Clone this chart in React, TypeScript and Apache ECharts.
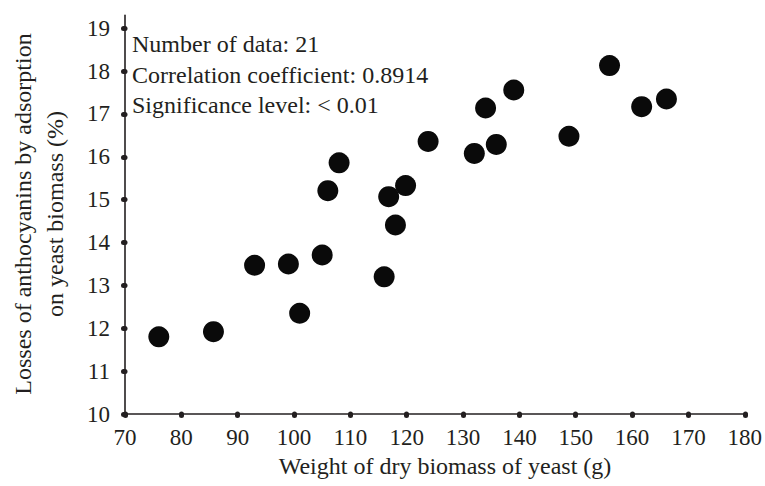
import React, { useEffect, useRef } from "react";
import * as echarts from "echarts";

const weights = [76, 85.7, 93, 99, 101, 105, 106, 108, 116, 116.8, 118, 119.8, 123.8, 132, 134, 135.9, 139, 148.8, 156, 161.7, 166.1];
const losses = [11.8, 11.92, 13.47, 13.5, 12.35, 13.71, 15.21, 15.86, 13.2, 15.07, 14.41, 15.33, 16.36, 16.08, 17.14, 16.29, 17.56, 16.48, 18.13, 17.17, 17.35];
const yTicks = [10, 11, 12, 13, 14, 15, 16, 17, 18, 19];
const xTitle = "Weight of dry biomass of yeast (g)";
const yTitleLines = ["Losses of anthocyanins by adsorption", "on yeast biomass (%)"];
const notes = ["Number of data: 21", "Correlation coefficient: 0.8914", "Significance level: < 0.01"];

const FONT = "'Liberation Serif', 'DejaVu Serif', serif";
const INK = "#231f20";

export default function App() {
  const ref = useRef<HTMLDivElement>(null);
  useEffect(() => {
    if (!ref.current) return;
    const chart = echarts.init(ref.current, undefined, { renderer: "svg" });
    const tickStyle = { show: true, length: 1.5, lineStyle: { color: INK, width: 5, cap: "round" as const } };
    chart.setOption({
      animation: false,
      backgroundColor: "#ffffff",
      grid: { left: 125, right: 18, top: 15.4, bottom: 72 },
      xAxis: {
        type: "value",
        min: 70,
        max: 180,
        interval: 10,
        splitLine: { show: false },
        axisLine: { lineStyle: { color: INK, width: 1.6 } },
        axisTick: tickStyle,
        axisLabel: { color: INK, fontFamily: FONT, fontSize: 23, margin: 12 },
      },
      yAxis: {
        type: "value",
        min: 10,
        max: 19.3,
        splitLine: { show: false },
        axisLine: { show: true, lineStyle: { color: INK, width: 1.6 } },
        axisTick: { ...tickStyle, customValues: yTicks },
        axisLabel: { color: INK, fontFamily: FONT, fontSize: 23, margin: 15, customValues: yTicks },
      },
      series: [
        {
          type: "scatter",
          symbol: "circle",
          symbolSize: 21,
          itemStyle: { color: "#0a0a0a", opacity: 1 },
          data: weights.map((w, i) => [w, losses[i]]),
        },
      ],
      graphic: [
        {
          type: "text",
          x: 445,
          y: 466,
          style: { text: xTitle, font: `24px ${FONT}`, fill: INK, align: "center", verticalAlign: "middle" },
        },
        ...yTitleLines.map((t, i) => ({
          type: "text",
          x: 23 + i * 32,
          y: 214,
          rotation: Math.PI / 2,
          style: { text: t, font: `24px ${FONT}`, fill: INK, align: "center", verticalAlign: "middle" },
        })),
        ...notes.map((t, i) => ({
          type: "text",
          x: 132,
          y: 32 + i * 30.5,
          style: { text: t, font: `24px ${FONT}`, fill: INK, align: "left", verticalAlign: "alphabetic" },
        })),
      ],
    });
    return () => chart.dispose();
  }, []);
  return <div ref={ref} style={{ width: 765, height: 486, position: "absolute", left: 0, top: 0 }} />;
}
